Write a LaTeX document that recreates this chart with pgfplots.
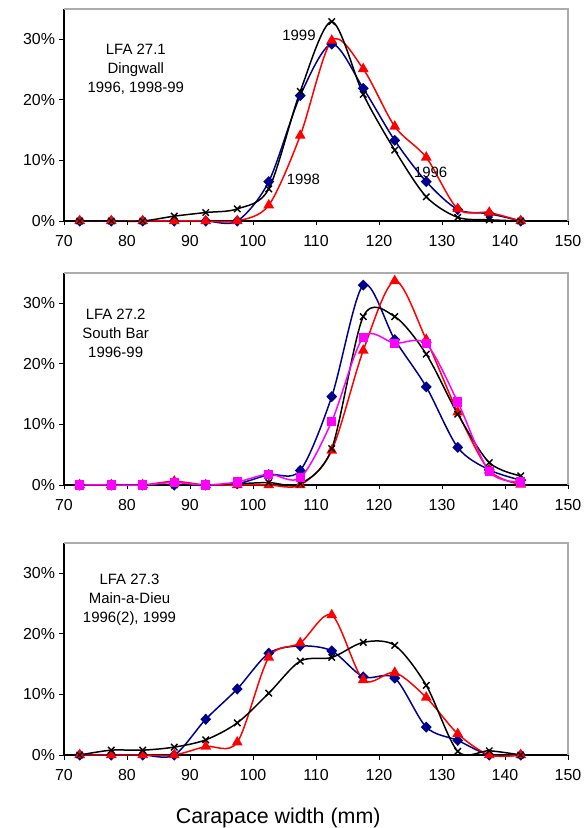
\documentclass[border=0pt]{standalone}
\usepackage{fontspec}
\setmainfont{Liberation Sans}
\usepackage{pgfplots}
\pgfplotsset{compat=1.18}
\definecolor{navy}{RGB}{0,0,140}
\definecolor{mag}{RGB}{255,0,255}

\pgfplotsset{
  panel/.style={
    scale only axis, width=504bp, height=212bp,
    xmin=70, xmax=150, ymin=0, ymax=35,
    xtick={70,80,...,150}, ytick={0,10,20,30},
    yticklabels={0\%,10\%,20\%,30\%},
    axis x line*=bottom, axis y line*=left,
    axis line style={-, black, line width=1.6pt},
    tick align=outside, major tick length=4.5bp,
    tick style={black, line width=0.9pt},
    ticklabel style={font=\fontsize{16}{18}\selectfont},
    xticklabel style={yshift=-6bp},
    yticklabel style={xshift=-1bp},
    /pgf/number format/assume math mode=true,
    clip=false,
    every axis plot/.append style={line width=1.5pt, smooth},
  },
  s96/.style={navy, mark=diamond*, mark size=4.5pt, mark options={solid, xscale=1.3}},
  s98/.style={red, mark=triangle*, mark size=4.8pt, mark options={solid}},
  s99/.style={black, mark=x, mark size=4.6pt, mark options={solid, line width=1.4pt}},
  s97/.style={mag, mark=square*, mark size=3.8pt, mark options={solid}},
}
\tikzset{lbl/.style={font=\fontsize{15}{19}\selectfont, align=center}}

\begin{document}
\begin{tikzpicture}
\path[use as bounding box] (-64bp,-73bp) rectangle (522bp,755bp);

% LFA 27.1
\begin{axis}[panel, at={(0,534bp)}]
\addplot[s96] coordinates {
  (72.5,0) (77.5,0) (82.5,0) (87.5,0) (92.5,0) (97.5,0) (102.5,6.5) (107.5,20.7)
  (112.5,29.2) (117.5,21.9) (122.5,13.3) (127.5,6.5) (132.5,1.9) (137.5,1.2) (142.5,0)
};
\addplot[s98] coordinates {
  (72.5,0) (77.5,0) (82.5,0) (87.5,0) (92.5,0) (97.5,0) (102.5,2.6) (107.5,14.1)
  (112.5,29.8) (117.5,25.1) (122.5,15.6) (127.5,10.5) (132.5,2.0) (137.5,1.4) (142.5,0)
};
\addplot[s99] coordinates {
  (72.5,0) (77.5,0) (82.5,0) (87.5,0.8) (92.5,1.4) (97.5,2.0) (102.5,5.3) (107.5,21.4)
  (112.5,32.9) (117.5,20.9) (122.5,11.7) (127.5,4.0) (132.5,0.6) (137.5,0.2) (142.5,0)
};
\draw[gray!65, line width=1.3pt] (rel axis cs:0,1) -- (rel axis cs:1,1) -- (rel axis cs:1,0);
\node[lbl] at (axis cs:81.4,25) {LFA 27.1\\Dingwall\\1996, 1998-99};
\node[lbl] at (axis cs:107.3,30.6) {1999};
\node[lbl] at (axis cs:108.0,6.8) {1998};
\node[lbl] at (axis cs:128.2,8.1) {1996};
\end{axis}

% LFA 27.2
\begin{axis}[panel, at={(0,270bp)}]
\addplot[s96] coordinates {
  (72.5,0) (77.5,0) (82.5,0) (87.5,0) (92.5,0) (97.5,0.2) (102.5,1.7) (107.5,2.4)
  (112.5,14.6) (117.5,33.0) (122.5,24.0) (127.5,16.2) (132.5,6.2) (137.5,2.5) (142.5,0.8)
};
\addplot[s98] coordinates {
  (72.5,0) (77.5,0) (82.5,0) (87.5,0.6) (92.5,0) (97.5,0) (102.5,0) (107.5,0)
  (112.5,5.7) (117.5,22.2) (122.5,33.7) (127.5,24.0) (132.5,12.0) (137.5,2.4) (142.5,0.1)
};
\addplot[s99] coordinates {
  (72.5,0) (77.5,0) (82.5,0) (87.5,0) (92.5,0) (97.5,0.2) (102.5,0.4) (107.5,0.2)
  (112.5,6.0) (117.5,27.8) (122.5,27.8) (127.5,21.6) (132.5,11.7) (137.5,3.7) (142.5,1.5)
};
\addplot[s97] coordinates {
  (72.5,0) (77.5,0) (82.5,0) (87.5,0.4) (92.5,0) (97.5,0.5) (102.5,1.8) (107.5,1.2)
  (112.5,10.5) (117.5,24.4) (122.5,23.4) (127.5,23.3) (132.5,13.7) (137.5,2.2) (142.5,0.5)
};
\draw[gray!65, line width=1.3pt] (rel axis cs:0,1) -- (rel axis cs:1,1) -- (rel axis cs:1,0);
\node[lbl] at (axis cs:78.2,25) {LFA 27.2\\South Bar\\1996-99};
\end{axis}

% LFA 27.3
\begin{axis}[panel, at={(0,0)}]
\addplot[s96] coordinates {
  (72.5,0) (77.5,0) (82.5,0) (87.5,0) (92.5,5.9) (97.5,10.9) (102.5,16.8) (107.5,18.0)
  (112.5,17.2) (117.5,12.9) (122.5,12.7) (127.5,4.6) (132.5,2.4) (137.5,0) (142.5,0)
};
\addplot[s98] coordinates {
  (72.5,0) (77.5,0) (82.5,0) (87.5,0) (92.5,1.4) (97.5,2.1) (102.5,16.1) (107.5,18.5)
  (112.5,23.1) (117.5,12.4) (122.5,13.6) (127.5,9.5) (132.5,3.5) (137.5,0) (142.5,0)
};
\addplot[s99] coordinates {
  (72.5,0) (77.5,0.8) (82.5,0.8) (87.5,1.3) (92.5,2.5) (97.5,5.3) (102.5,10.2) (107.5,15.5)
  (112.5,16.1) (117.5,18.6) (122.5,18.1) (127.5,11.5) (132.5,0.6) (137.5,0.7) (142.5,0)
};
\draw[gray!65, line width=1.3pt] (rel axis cs:0,1) -- (rel axis cs:1,1) -- (rel axis cs:1,0);
\node[lbl] at (axis cs:80.4,25.6) {LFA 27.3\\Main-a-Dieu\\1996(2), 1999};
\node[font=\fontsize{21.5}{24}\selectfont] at (axis cs:104,0) [yshift=-63bp] {Carapace width (mm)};
\end{axis}
\end{tikzpicture}
\end{document}
